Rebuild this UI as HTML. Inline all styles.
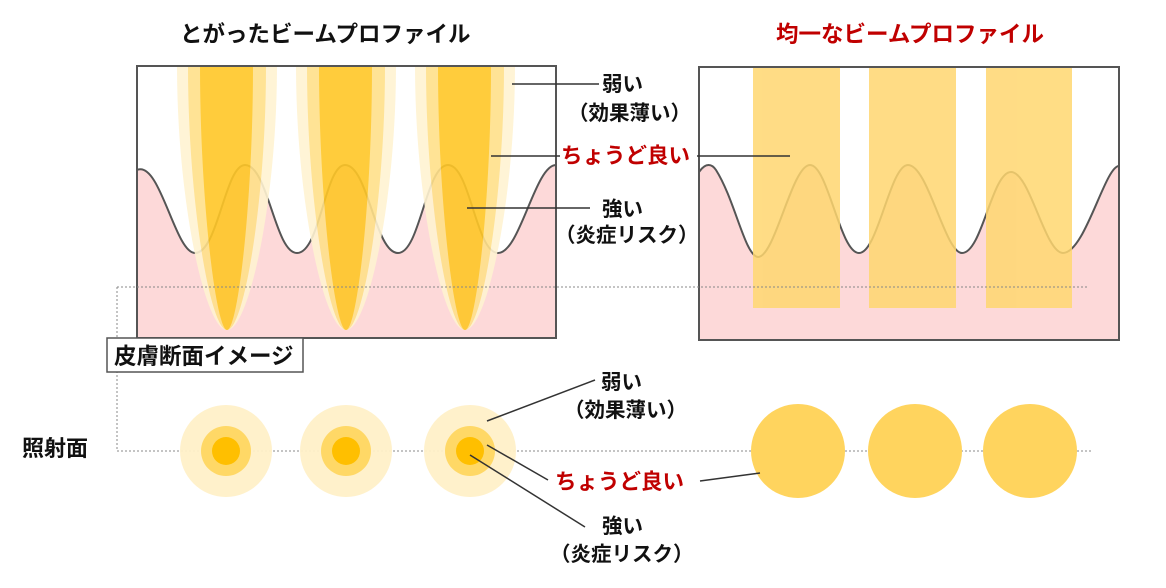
<!DOCTYPE html>
<html><head><meta charset="utf-8"><style>
html,body{margin:0;padding:0;background:#fff;}
svg{display:block;}
text{font-family:"Liberation Sans","Noto Sans CJK JP",sans-serif;font-weight:bold;}
</style></head><body>
<svg width="1166" height="588" viewBox="0 0 1166 588" xmlns="http://www.w3.org/2000/svg">
<defs>
<clipPath id="lc"><rect x="137" y="66" width="419" height="272"/></clipPath>
<clipPath id="rc"><rect x="699" y="67" width="420" height="273"/></clipPath>
</defs>
<text x="180" y="42" font-size="22.5" fill="#111">とがったビームプロファイル</text>
<text x="776" y="42" font-size="22.5" fill="#c00000">均一なビームプロファイル</text>

<rect x="137" y="66" width="419" height="272" fill="#fff"/>
<g clip-path="url(#lc)">
<path d="M137,170 C160,160 175,253 195,253 C218,253 225,165 245,165 C268,165 275,253 297,253 C320,253 325,165 345,165 C368,165 375,253 398,253 C420,253 426,165 448,165 C470,165 476,253 498,253 C520,253 535,165 556,165 L556,338 L137,338 Z" fill="#fdd9d9"/>
<path d="M137,170 C160,160 175,253 195,253 C218,253 225,165 245,165 C268,165 275,253 297,253 C320,253 325,165 345,165 C368,165 375,253 398,253 C420,253 426,165 448,165 C470,165 476,253 498,253 C520,253 535,165 556,165" fill="none" stroke="#555" stroke-width="2"/>
<g opacity="0.9">
<g id="bm">
<path d="M177,66 C177,200 205,330 227,330 C249,330 277,200 277,66 Z" fill="#fff3d2"/>
<path d="M188,66 C188,200 210,330 227,330 C244,330 266,200 266,66 Z" fill="#ffe08a"/>
<path d="M200,66 C200,200 216,330 227,330 C238,330 253,200 253,66 Z" fill="#ffc727"/>
</g>
<use href="#bm" x="119"/>
<use href="#bm" x="238"/>
</g>
</g>
<rect x="137" y="66" width="419" height="272" fill="none" stroke="#555" stroke-width="2"/>

<rect x="699" y="67" width="420" height="273" fill="#fff"/>
<g clip-path="url(#rc)">
<path d="M699,172 C706,162 712,164 716,170 C735,200 745,256 758,257 C775,257 792,165 810,165 C828,165 840,253 859,253 C878,253 890,165 908,165 C928,165 945,253 962,253 C982,253 992,172 1011,172 C1030,172 1045,253 1063,253 C1085,253 1105,166 1119,166 L1119,340 L699,340 Z" fill="#fdd9d9"/>
<path d="M699,172 C706,162 712,164 716,170 C735,200 745,256 758,257 C775,257 792,165 810,165 C828,165 840,253 859,253 C878,253 890,165 908,165 C928,165 945,253 962,253 C982,253 992,172 1011,172 C1030,172 1045,253 1063,253 C1085,253 1105,166 1119,166" fill="none" stroke="#555" stroke-width="2"/>
<g fill="#ffd770" opacity="0.85">
<rect x="753" y="67" width="87" height="241"/>
<rect x="869" y="67" width="87" height="241"/>
<rect x="986" y="67" width="86" height="241"/>
</g>
</g>
<rect x="699" y="67" width="420" height="273" fill="none" stroke="#555" stroke-width="2"/>

<g stroke="#888" stroke-width="1" stroke-dasharray="2,2" fill="none">
<line x1="117" y1="287" x2="1088" y2="287"/>
<line x1="117" y1="287" x2="117" y2="451"/>
<line x1="117" y1="451" x2="1092" y2="451"/>
</g>

<rect x="107" y="338" width="196" height="34" fill="#fff" stroke="#555" stroke-width="1.5"/>
<text x="114" y="364" font-size="22.5" fill="#111">皮膚断面イメージ</text>
<text x="22" y="456" font-size="22" fill="#111">照射面</text>

<g id="cc">
<circle cx="226" cy="451" r="46" fill="#fff0c8" opacity="0.95"/>
<circle cx="226" cy="451" r="25" fill="#ffd866"/>
<circle cx="226" cy="451" r="14" fill="#ffbf00"/>
</g>
<use href="#cc" x="120"/>
<use href="#cc" x="244"/>
<g fill="#ffd45e">
<circle cx="798" cy="451" r="47"/>
<circle cx="915" cy="451" r="47"/>
<circle cx="1030" cy="451" r="47"/>
</g>

<g stroke="#333" stroke-width="1.5">
<line x1="512" y1="84" x2="599" y2="84"/>
<line x1="491" y1="156" x2="560" y2="156"/>
<line x1="467" y1="208" x2="590" y2="208"/>
<line x1="697" y1="156" x2="790" y2="156"/>
<line x1="487" y1="421" x2="595" y2="380"/>
<line x1="487" y1="445" x2="548" y2="480"/>
<line x1="470" y1="455" x2="585" y2="527"/>
<line x1="700" y1="481" x2="760" y2="473"/>
</g>

<g font-size="20.5" fill="#111">
<text x="602" y="91">弱い</text>
<text x="568" y="120">（効果薄い）</text>
<text x="602" y="216">強い</text>
<text x="555" y="242">（炎症リスク）</text>
<text x="601" y="389">弱い</text>
<text x="564" y="417">（効果薄い）</text>
<text x="602" y="533">強い</text>
<text x="550" y="561">（炎症リスク）</text>
</g>
<text x="561" y="163" font-size="21.5" fill="#c00000">ちょうど良い</text>
<text x="555" y="489" font-size="21.5" fill="#c00000">ちょうど良い</text>
</svg>
</body></html>
